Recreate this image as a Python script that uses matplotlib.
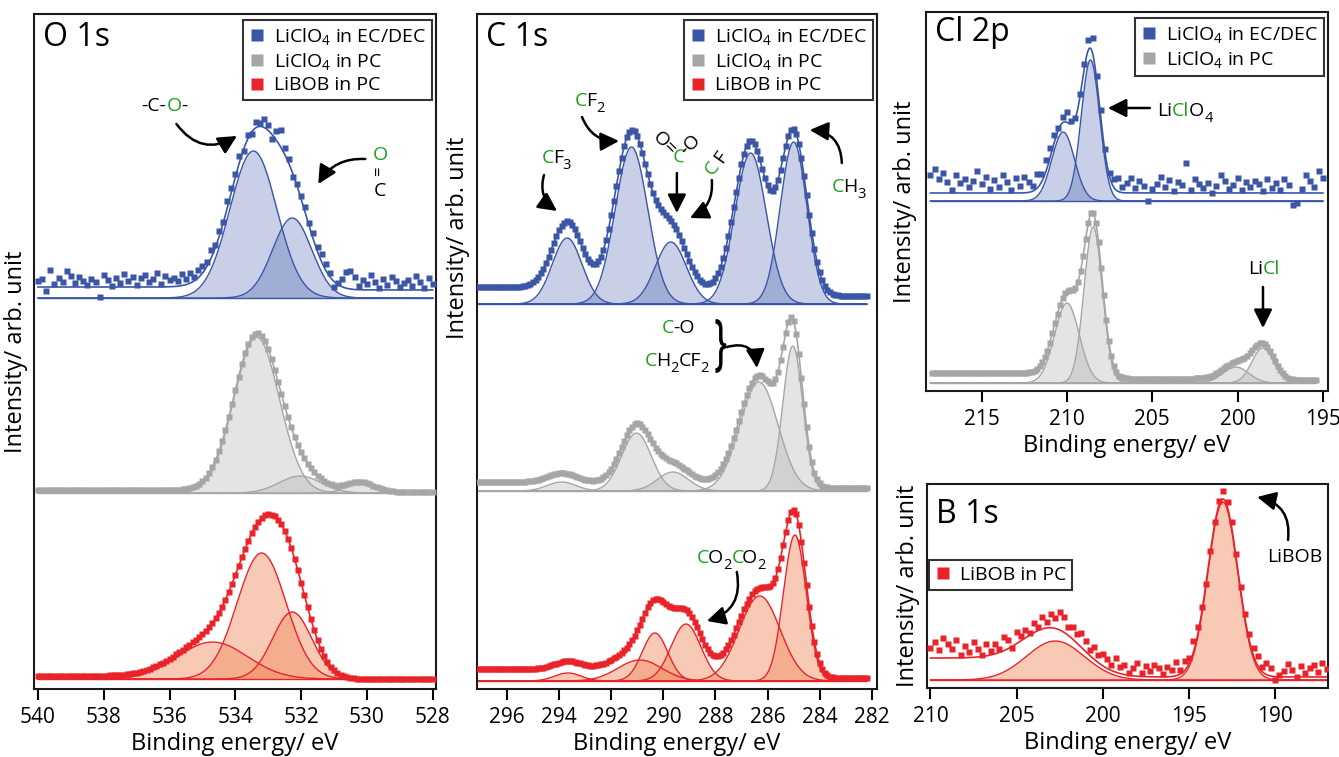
import numpy as np
import matplotlib.pyplot as plt
from matplotlib.lines import Line2D
from matplotlib.textpath import TextPath
from matplotlib.patches import PathPatch
from matplotlib.font_manager import FontProperties
from matplotlib.transforms import Affine2D, ScaledTranslation

plt.rcParams['font.family'] = ['Open Sans', 'DejaVu Sans']
plt.rcParams['mathtext.fontset'] = 'custom'
plt.rcParams['mathtext.rm'] = 'Open Sans'
plt.rcParams['mathtext.it'] = 'Open Sans:italic'
plt.rcParams['mathtext.bf'] = 'Open Sans:bold'

BLUE = '#3b56a6'
GRAY = '#a6a6a6'
RED = '#e8242a'
GREEN = '#1d9e1d'
SALMON = '#f08a5e'

series_labels = ['LiClO$_4$ in EC/DEC', 'LiClO$_4$ in PC', 'LiBOB in PC']

# fitted components: (centre / eV, height / arb., fwhm / eV)
# O 1s
o1s_range = (528.0, 540.0)
o1s_ticks = [540, 538, 536, 534, 532, 530, 528]
o1s_ecdec = [(533.45, 147, 1.68), (532.27, 80, 1.40)]
o1s_pc = [(533.35, 156, 1.62), (532.03, 17, 1.50), (530.20, 10, 1.00)]
o1s_bob = [(533.20, 126, 1.75), (532.27, 67, 1.40), (534.69, 37, 2.50)]
o1s_base = [391, 196, 10]
o1s_bg = [(11, 8), (3, 1), (3, 0)]   # background at high / low binding energy
# scatter of the measured points about the fit, 528.0 -> 540.0 eV every 0.125 eV
o1s_ecdec_resid = [6, 12, 2, 8, 14, 4, 10, 7, 3,
                   9, 13, 5, 11, 2, 8, 15, 6,
                   10, 4, 12, 18, 16, 8, 2, -6,
                   4, 6, 8, 5, 7, 4, 6, 3,
                   2, -3, 4, 6, 17, 9, -4, 5,
                   8, 3, 6, -2, 4, -1, 6, 3,
                   5, 8, 2, 6, 4, 9, 5, 7,
                   8, 4, 10, 6, 12, 5, 9, 7,
                   11, 3, 14, 8, 5, 12, 9, 2,
                   10, 6, 13, 4, 9, 1, 7, 12,
                   -10, 5, 8, 2, 6, 10, 4, 11,
                   16, 5, 9, 3, 17, -4, 8, 6]

# C 1s
c1s_range = (282.2, 297.1)
c1s_ticks = [296, 294, 292, 290, 288, 286, 284, 282]
c1s_ecdec = [(293.69, 66, 1.34), (291.22, 157, 1.47), (289.71, 62, 1.40),
             (286.65, 151, 1.42), (285.00, 162, 1.20)]
c1s_pc = [(293.90, 9, 1.30), (291.03, 58, 1.34), (289.63, 19, 1.40),
          (286.33, 109, 1.73), (285.03, 145, 0.90)]
c1s_bob = [(293.66, 8, 1.20), (290.90, 21, 2.00), (290.32, 48, 1.15),
           (289.13, 57, 1.34), (286.30, 85, 1.85), (284.95, 146, 1.03)]
c1s_base = [385, 198, 8]
c1s_bg = [(17, 8), (9, 3), (12, 3)]

# Cl 2p
cl2p_range = [(195.0, 218.0), (195.4, 218.0)]
cl2p_ticks = [215, 210, 205, 200, 195]
cl2p_ecdec = [(210.22, 69, 1.56), (208.62, 141, 1.27)]
cl2p_pc = [(210.00, 80, 1.70), (208.46, 156, 1.27), (200.10, 16, 1.80), (198.52, 35, 1.50)]
cl2p_base = [190, 8]
cl2p_bg = [(8, 8), (10, 3)]
# 195.0 -> 218.0 eV every 0.25 eV
cl2p_ecdec_resid = [15, 22, 6, 12, 18,
                    4, -10, -12, 8, 14, 3,
                    10, 5, 14, 2, 9, 12,
                    6, 11, 3, 15, 8, 4,
                    12, 18, 7, 0, 10, 5,
                    9, 14, 3, 30, 8, 11,
                    2, 13, 6, 16, 9, 4,
                    -8, 7, 12, 5, 15, 10,
                    6, 13, 8, 4, 6, 10,
                    5, 15, 10, 6, 4, 0,
                    3, 10, 6, 2, 8, 10,
                    12, 8, 14, 5, 10, 16,
                    7, 15, 3, 11, 18, 6,
                    13, 4, 16, 9, 22, 12,
                    6, 14, 10, 18, 3, 11,
                    20, 14, 24, 18]

# B 1s
b1s_range = (187.0, 210.0)
b1s_ticks = [210, 205, 200, 195, 190]
b1s_bob = [(202.75, 39, 3.96), (193.03, 178, 2.03)]
b1s_base = 8
b1s_bg = (22, 3)
# 187.0 -> 210.0 eV every 0.25 eV
b1s_resid = [8, 14, 5, 12, 9,
             4, 11, 0, 7, 13, 6,
             2, -3, 8, 12, 5, 10,
             8, 6, 4, 3, 5, 8,
             6, 8, 4, 2, 0, -2,
             5, 8, 12, 6, 10, 4,
             14, 7, 10, 3, 9, 12,
             6, 11, 4, 13, 8, 2,
             10, 7, 14, 5, 9, 12,
             8, 12, 6, 10, 14, 9,
             12, 8, 15, 18, 10, 14,
             6, 12, 4, 10, 2, 8,
             5, 12, -2, 9, 14, 3,
             10, 4, 12, 2, 8, 15,
             6, 12, 3, 18, 9, 14,
             20, 8, 16, 10]


def spectrum(ax, rng, peaks, base, bg, color, fill, alpha, every, step_peaks=None, resid=None):
    lo, hi = rng
    e = np.linspace(lo, hi, int(round((hi - lo) / 0.025)) + 1)
    comps = [h * np.exp(-4 * np.log(2) * (e - c) ** 2 / w ** 2) for c, h, w in peaks]
    total = np.sum(comps, axis=0)
    if step_peaks is None:
        src = total
    else:
        src = np.sum([comps[i] for i in step_peaks], axis=0)
    frac = np.cumsum(src) / np.sum(src)
    env = base + bg[1] + (bg[0] - bg[1]) * frac + total
    ax.hlines(base, lo, hi, color=color, lw=1)
    for c in comps:
        ax.fill_between(e, base, base + c, color=fill, alpha=alpha, lw=0)
        ax.plot(e, base + c, color=color, lw=1)
    ax.plot(e, env, color=color, lw=1.2)
    pts = env[::every]
    if resid is not None:
        pts = pts + np.array(resid)
    ax.plot(e[::every], pts, 's', color=color, ms=4, mec='none', zorder=3)


def style(ax, xlim, ylim, ticks, title, label_x, label_y=0.5, title_y=0.99):
    ax.set_xlim(*xlim)
    ax.set_ylim(*ylim)
    ax.set_xticks(ticks)
    ax.set_yticks([])
    ax.tick_params(axis='x', direction='out', length=8, width=1.5, labelsize=15, pad=5)
    for s in ax.spines.values():
        s.set_linewidth(1.5)
        s.set_color('#1a1a1a')
    ax.set_xlabel('Binding energy/ eV', fontsize=17, labelpad=3)
    ax.set_ylabel('Intensity/ arb. unit', fontsize=17)
    ax.yaxis.set_label_coords(label_x, label_y)
    ax.text(0.022, title_y, title, transform=ax.transAxes, fontsize=23, va='top', ha='left')


def legend(ax, colors, labs, loc, anchor):
    handles = [Line2D([], [], ls='none', marker='s', ms=9, color=c, mec='none') for c in colors]
    lg = ax.legend(handles, labs, loc=loc, bbox_to_anchor=anchor, borderaxespad=0,
                   fontsize=14, frameon=True, fancybox=False, edgecolor='k',
                   handlelength=0.8, handletextpad=0.5, borderpad=0.3, labelspacing=0.22)
    lg.get_frame().set_linewidth(1.5)


def chem(ax, parts, x, y, size=14):
    # text pieces laid side by side on one baseline; '_' marks a subscript
    prev = None
    prev_s = ''
    for s, c in parts:
        sub = s.startswith('_')
        s = s.lstrip('_')
        fs = size * 0.75 if sub else size
        dy = -0.3 * size if sub else 0
        dx = -0.08 * size if prev_s.endswith('C') else 0
        if prev is None:
            prev = ax.text(x, y, s, color=c, fontsize=fs, ha='left', va='baseline')
        else:
            prev = ax.annotate(s, xy=(1, y), xycoords=(prev, 'data'), xytext=(dx, dy),
                               textcoords='offset points', color=c, fontsize=fs,
                               ha='left', va='baseline')
        prev_s = s


def arrow(ax, start, end, rad=0.0):
    ax.annotate('', xy=end, xytext=start,
                arrowprops=dict(arrowstyle='-|>,head_length=0.7,head_width=0.35',
                                color='k', lw=1.8, mutation_scale=16,
                                shrinkA=0, shrinkB=0,
                                connectionstyle=f'arc3,rad={rad}'))


def brace(ax, x, y, w, h):
    tp = TextPath((0, 0), '}', size=1, prop=FontProperties(family='Open Sans'))
    ext = tp.get_extents()
    tr = (Affine2D().translate(-ext.x0 - ext.width / 2, -ext.y0 - ext.height / 2)
          .scale(w / ext.width, h / ext.height)
          + ScaledTranslation(x, y, ax.transData))
    ax.add_patch(PathPatch(tp, transform=tr, color='k', lw=0.6))


W, H = 1339, 757
fig = plt.figure(figsize=(W / 100, H / 100), dpi=100)


def px_axes(x0, y0, x1, y1):
    return fig.add_axes([x0 / W, 1 - y1 / H, (x1 - x0) / W, (y1 - y0) / H])


# ---------------- O 1s ----------------
ax = px_axes(34, 14, 436, 689)
spectrum(ax, o1s_range, o1s_ecdec, o1s_base[0], o1s_bg[0], BLUE, BLUE, 0.28, 5,
         resid=o1s_ecdec_resid)
spectrum(ax, o1s_range, o1s_pc, o1s_base[1], o1s_bg[1], GRAY, GRAY, 0.3, 4)
spectrum(ax, o1s_range, o1s_bob, o1s_base[2], o1s_bg[2], RED, SALMON, 0.45, 4)
style(ax, (540.12, 527.9), (0, 675), o1s_ticks, 'O 1s', -0.015)
legend(ax, [BLUE, GRAY, RED], series_labels, 'upper right', (0.99, 0.991))
chem(ax, [('-C-', 'k'), ('O', GREEN), ('-', 'k')], 536.85, 578)
arrow(ax, (535.79, 565), (533.95, 553), 0.45)
ax.text(529.59, 534, 'O', color=GREEN, fontsize=14, ha='center', va='center')
ax.text(529.59, 518, '=', color='k', fontsize=12, ha='center', va='center', rotation=90)
ax.text(529.59, 498, 'C', color='k', fontsize=14, ha='center', va='center')
arrow(ax, (530.05, 530), (531.48, 505), 0.3)

# ---------------- C 1s ----------------
ax = px_axes(477, 14, 877, 689)
spectrum(ax, c1s_range, c1s_ecdec, c1s_base[0], c1s_bg[0], BLUE, BLUE, 0.28, 4)
spectrum(ax, c1s_range, c1s_pc, c1s_base[1], c1s_bg[1], GRAY, GRAY, 0.3, 4)
spectrum(ax, c1s_range, c1s_bob, c1s_base[2], c1s_bg[2], RED, SALMON, 0.45, 4)
style(ax, (297.15, 281.8), (0, 675), c1s_ticks, 'C 1s', -0.0175, label_y=0.668)
legend(ax, [BLUE, GRAY, RED], series_labels, 'upper right', (0.99, 0.991))
chem(ax, [('C', GREEN), ('F', 'k'), ('_3', 'k')], 294.66, 526)
arrow(ax, (294.58, 514), (294.08, 478), 0.35)
chem(ax, [('C', GREEN), ('F', 'k'), ('_2', 'k')], 293.39, 583)
arrow(ax, (293.12, 572), (291.70, 548), 0.35)
ax.text(289.95, 545, 'O=', color='k', fontsize=14, ha='center', va='center', rotation=-45)
ax.text(289.42, 532, 'C', color=GREEN, fontsize=14, ha='center', va='center', rotation=-10)
ax.text(288.98, 544, '-O', color='k', fontsize=14, ha='center', va='center', rotation=45)
arrow(ax, (289.48, 516), (289.48, 476))
ax.text(288.14, 521, 'C', color=GREEN, fontsize=14, ha='center', va='center', rotation=55)
ax.text(287.80, 532, 'F', color='k', fontsize=14, ha='center', va='center', rotation=55)
arrow(ax, (288.14, 509), (288.98, 471), -0.35)
chem(ax, [('C', GREEN), ('H', 'k'), ('_3', 'k')], 283.53, 497)
arrow(ax, (283.15, 526), (284.38, 559), 0.45)
chem(ax, [('C', GREEN), ('-O', 'k')], 290.05, 356)
chem(ax, [('C', GREEN), ('H', 'k'), ('_2', 'k'), ('CF', 'k'), ('_2', 'k')], 290.71, 323)
brace(ax, 287.79, 343, 10, 53)
arrow(ax, (287.56, 342), (286.41, 321), -0.6)
chem(ax, [('C', GREEN), ('O', 'k'), ('_2', 'k'), ('C', GREEN), ('O', 'k'), ('_2', 'k')], 288.71, 126)
arrow(ax, (287.18, 117), (288.33, 68), -0.45)

# ---------------- Cl 2p ----------------
ax = px_axes(926, 12, 1328, 391)
spectrum(ax, cl2p_range[0], cl2p_ecdec, cl2p_base[0], cl2p_bg[0], BLUE, BLUE, 0.28, 10,
         resid=cl2p_ecdec_resid)
spectrum(ax, cl2p_range[1], cl2p_pc, cl2p_base[1], cl2p_bg[1], GRAY, GRAY, 0.3, 6)
style(ax, (218.26, 194.7), (0, 379), cl2p_ticks, 'Cl 2p', -0.022)
legend(ax, [BLUE, GRAY], series_labels[:2], 'upper right', (0.99, 0.984))
arrow(ax, (205.14, 283), (207.60, 283))
chem(ax, [('Li', 'k'), ('Cl', GREEN), ('O', 'k'), ('_4', 'k')], 204.73, 275)
chem(ax, [('Li', 'k'), ('Cl', GREEN)], 199.40, 117)
arrow(ax, (198.51, 104), (198.51, 63))

# ---------------- B 1s ----------------
ax = px_axes(927, 484, 1328, 688)
spectrum(ax, b1s_range, b1s_bob, b1s_base, b1s_bg, RED, SALMON, 0.45, 10,
         step_peaks=[0], resid=b1s_resid)
style(ax, (210.2, 186.93), (0, 204), b1s_ticks, 'B 1s', -0.017, title_y=0.93)
legend(ax, [RED], series_labels[2:], 'center left', (0.005, 0.554))
ax.text(188.84, 131, 'LiBOB', fontsize=14, ha='center', va='center')
arrow(ax, (189.25, 148), (191.04, 191), 0.45)

fig.savefig('out.png', dpi=100)
